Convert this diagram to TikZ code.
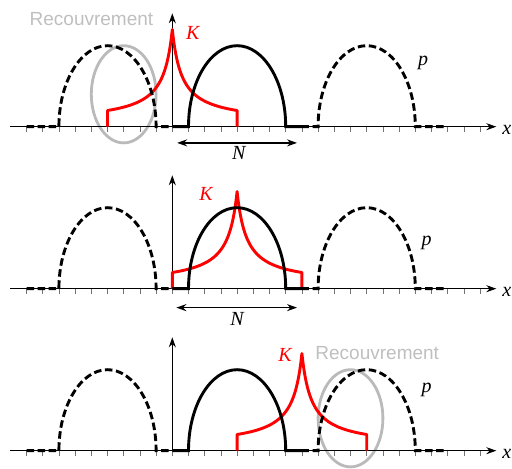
\documentclass[tikz,border=0pt]{standalone}
\usepackage{fontspec}
\setmainfont{Liberation Serif}
\newfontfamily\sansgris{Liberation Sans}
\usetikzlibrary{arrows.meta}
\tikzstyle{axe} = [line width=0.9pt, -{Stealth[length=10pt, width=7pt]}]
\tikzstyle{graduation} = [line width=0.8pt, black!55]
\tikzstyle{motif} = [line width=2.9pt]
\tikzstyle{periode} = [line width=2.9pt, dash pattern=on 7.5pt off 3.6pt]
\tikzstyle{noyau} = [line width=2.9pt, red, line join=round]
\tikzstyle{zone} = [line width=2.8pt, black!27]
\tikzstyle{largeur} = [line width=1.6pt, {Stealth[length=10pt, width=7pt]}-{Stealth[length=10pt, width=7pt]}]
\tikzstyle{lettre} = [font=\fontsize{20}{24}\selectfont\itshape, inner sep=0pt]
\tikzstyle{legende} = [font=\fontsize{19}{23}\sansgris, text=black!25, inner sep=0pt]

\begin{document}
\begin{tikzpicture}[x=16.2pt, y=16.2pt]
    \useasboundingbox (-10.636,-21.13) rectangle (20.969,7.82);
    % zones de recouvrement
    \draw[zone] (-3,2) ellipse [x radius=2, y radius=3];
    \draw[zone] (11,-18) ellipse [x radius=2, y radius=3];
    \foreach \dy/\c in {0/0, -10/4, -20/8} {
        \begin{scope}[shift={(0,\dy)}]
            % axes
            \draw[axe] (-10,0) -- (20,0);
            \foreach \k in {-9,...,19} \draw[graduation] (\k,0) -- (\k,-0.35);
            \draw[axe] (0,0) -- (0,7);
            % noyau K centre en \c
            \draw[noyau] (\c-4,0) -- plot[domain=-4:0, samples=60] ({\c+\x}, {3.45/(0.6-\x)+0.25})
                -- plot[domain=0:4, samples=60] ({\c+\x}, {3.45/(0.6+\x)+0.25}) -- (\c+4,0);
            % signal p
            \draw[periode] (-9,0) -- (-7,0) arc[start angle=180, end angle=0, x radius=3, y radius=5] -- (0,0);
            \draw[periode] (16.75,0) -- (15,0) arc[start angle=0, end angle=180, x radius=3, y radius=5] -- (8,0);
            \draw[motif] (0,0) -- (1,0) arc[start angle=180, end angle=0, x radius=3, y radius=5] -- (8,0);
        \end{scope}
    }
    % etiquettes
    \node[lettre, red] (K1) at (1.26,5.77) {K};
    \node[lettre, red] (K2) at (2.08,-4.14) {K};
    \node[lettre, red] (K3) at (6.96,-14.09) {K};
    \node[lettre] (p1) at (15.49,3.91) {p};
    \node[lettre] (p2) at (15.7,-7.16) {p};
    \node[lettre] (p3) at (15.7,-16.25) {p};
    \node[lettre, anchor=west] (x1) at (20.37,-0.2) {x};
    \node[lettre, anchor=west] (x2) at (20.37,-10.2) {x};
    \node[lettre, anchor=west] (x3) at (20.37,-20.2) {x};
    \node[legende] (rec1) at (-4.99,6.63) {Recouvrement};
    \node[legende] (rec3) at (12.65,-13.95) {Recouvrement};
    % largeur N
    \coordinate (Ng1) at (0.3,-1);
    \coordinate (Nd1) at (7.7,-1);
    \draw[largeur] (Ng1) -- (Nd1);
    \node[lettre] (N1) at (4.1,-1.64) {N};
    \coordinate (Ng2) at (0.25,-11.17);
    \coordinate (Nd2) at (7.7,-11.17);
    \draw[largeur] (Ng2) -- (Nd2);
    \node[lettre] (N2) at (4.0,-11.85) {N};
\end{tikzpicture}
\end{document}
